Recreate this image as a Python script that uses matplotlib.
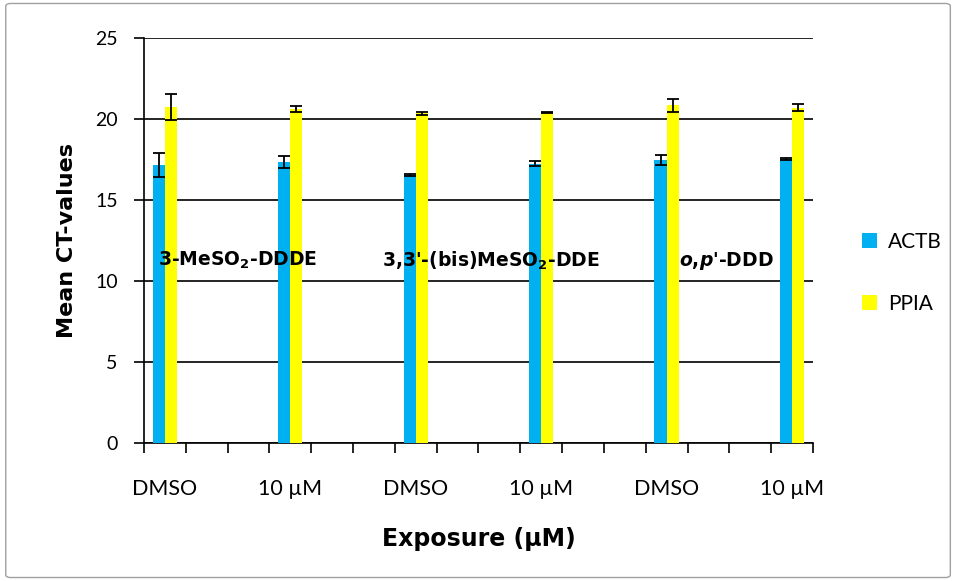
import matplotlib
matplotlib.use("Agg")
import matplotlib.pyplot as plt
import numpy as np
from matplotlib.patches import FancyBboxPatch

# data
exposure = ["DMSO", "10 µM", "DMSO", "10 µM", "DMSO", "10 µM"]
actb = [17.15, 17.35, 16.55, 17.25, 17.45, 17.55]
actb_err = [0.75, 0.35, 0.05, 0.15, 0.3, 0.05]
ppia = [20.75, 20.62, 20.35, 20.4, 20.85, 20.7]
ppia_err = [0.8, 0.2, 0.1, 0.05, 0.4, 0.2]
compounds = ["3-MeSO$_2$-DDDE", "3,3'-(bis)MeSO$_2$-DDE", "$\\mathit{o}$,$\\mathit{p}$'-DDD"]
n_cat = 16
cat_pos = [0, 3, 6, 9, 12, 15]

plt.rcParams['mathtext.fontset'] = 'custom'
plt.rcParams['mathtext.rm'] = 'DejaVu Sans:bold'
plt.rcParams['mathtext.it'] = 'DejaVu Sans:bold:italic'
plt.rcParams['mathtext.bf'] = 'DejaVu Sans:bold'
plt.rcParams['mathtext.default'] = 'rm'

fig = plt.figure(figsize=(9.58, 5.81), dpi=100)
border = FancyBboxPatch((0.006, 0.006), 0.986, 0.988, boxstyle="round,pad=0,rounding_size=0.005",
                        transform=fig.transFigure, fill=False, edgecolor="#a0a0a0", lw=1.0)
fig.patches.append(border)

ax = fig.add_axes([0.1503, 0.2375, 0.6983, 0.6971])
x = np.array(cat_pos)
w = 0.29
ax.bar(x - w / 2, actb, w, color="#00B0F0", label="ACTB", zorder=3)
ax.bar(x + w / 2, ppia, w, color="#FFFF00", label="PPIA", zorder=3)
ax.errorbar(x - w / 2, actb, yerr=actb_err, fmt="none", ecolor="black", elinewidth=1.3,
            capsize=4, capthick=1.3, zorder=4)
ax.errorbar(x + w / 2, ppia, yerr=ppia_err, fmt="none", ecolor="black", elinewidth=1.3,
            capsize=4, capthick=1.3, zorder=4)

ax.set_xlim(-0.5, n_cat - 0.5)
ax.set_ylim(0, 25)
ax.set_yticks([0, 5, 10, 15, 20, 25])
ax.yaxis.grid(True, color="black", lw=1.2)
ax.set_axisbelow(True)
for s in ["top", "right"]:
    ax.spines[s].set_visible(False)
ax.spines["left"].set_linewidth(1.2)
ax.spines["bottom"].set_linewidth(1.2)

ax.set_xticks(np.arange(-0.5, n_cat, 1.0))
ax.set_xticklabels([])
ax.set_xticks(cat_pos, minor=True)
ax.set_xticklabels(exposure, minor=True, fontsize=15.5, family="Lato")
ax.tick_params(axis="x", which="major", length=7, width=1.2, direction="out")
ax.tick_params(axis="x", which="minor", length=0, pad=26)
ax.tick_params(axis="y", length=7, width=1.2, labelsize=14, pad=12)
for t in ax.get_yticklabels():
    t.set_family("Lato")

ax.set_ylabel("Mean CT-values", fontsize=16, fontweight="bold", family="DejaVu Sans", labelpad=13)
ax.set_xlabel("Exposure (µM)", fontsize=17, fontweight="bold", family="DejaVu Sans", labelpad=20)

text_x = [-0.17, 5.2, 12.3]
for tx, lab in zip(text_x, compounds):
    ax.text(tx, 11.25, lab, fontsize=13.5, fontweight="bold", family="DejaVu Sans",
            va="center", ha="left", zorder=5)

ax.legend(loc="center left", bbox_to_anchor=(1.045, 0.42), frameon=False,
          prop={"family": "Lato", "size": 15}, handlelength=0.75, handleheight=0.75,
          labelspacing=2.0, handletextpad=0.5)

fig.savefig("out.png", dpi=100)
